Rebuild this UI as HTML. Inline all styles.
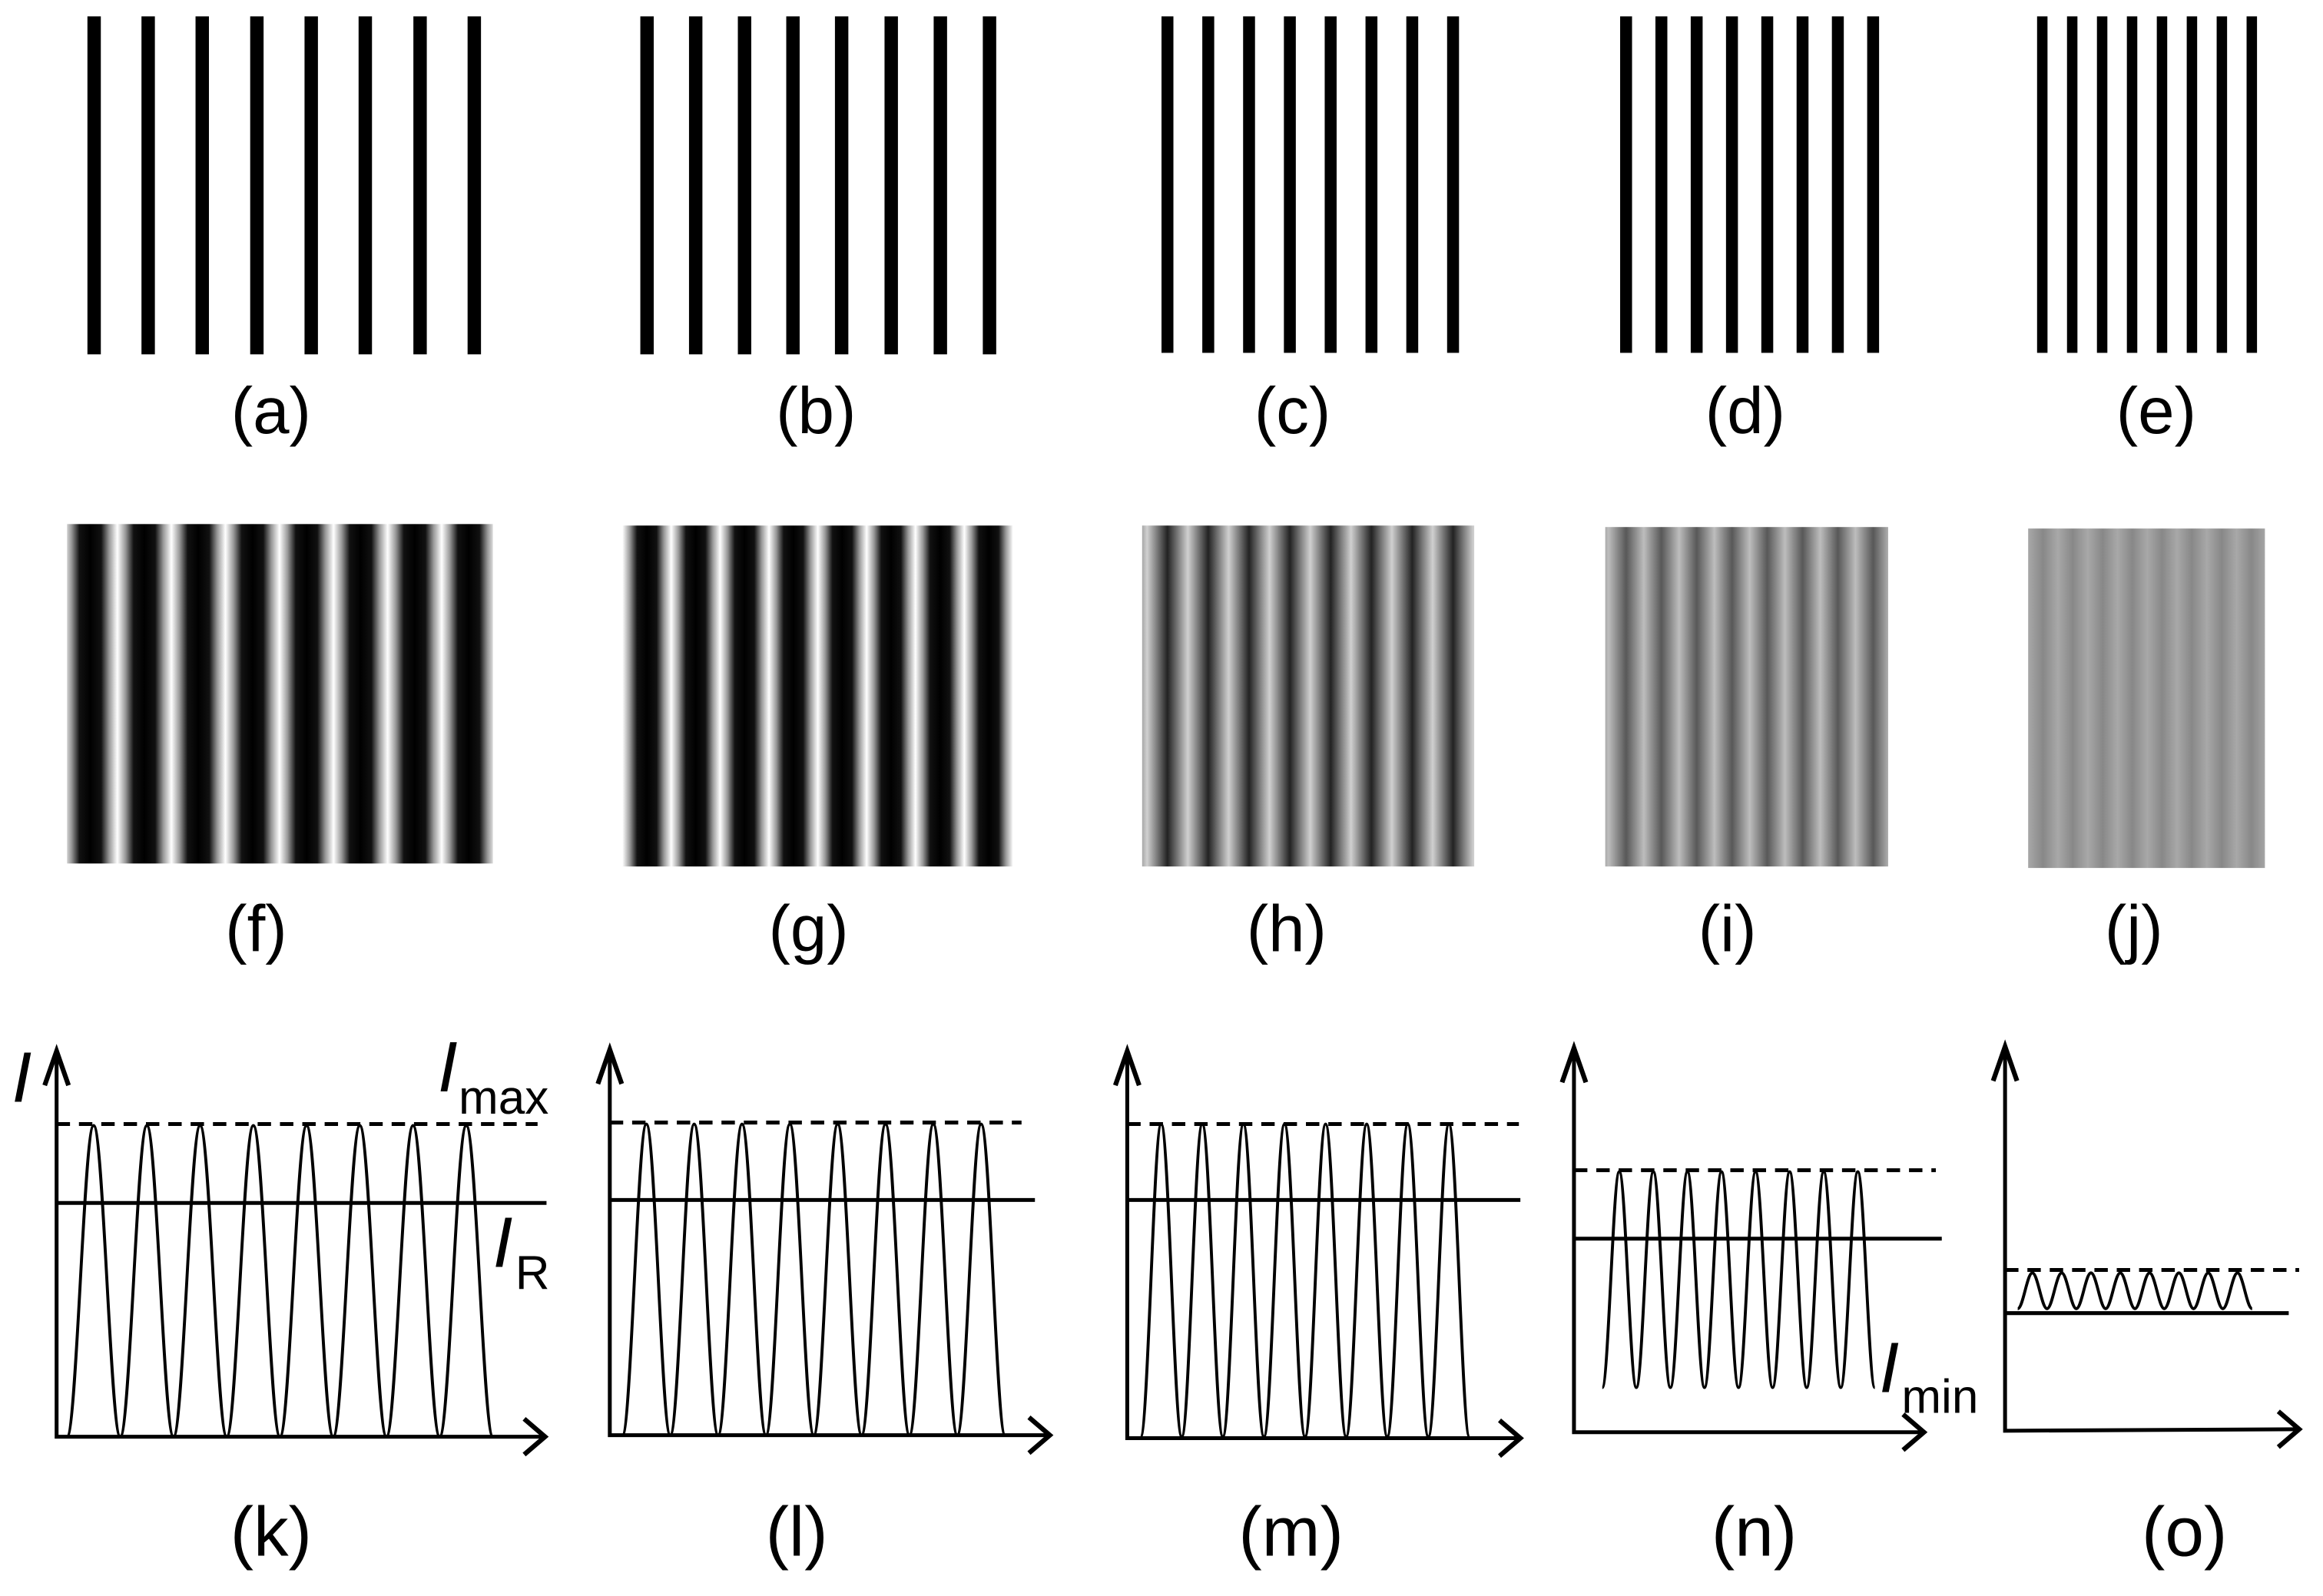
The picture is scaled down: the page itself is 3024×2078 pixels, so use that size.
<!DOCTYPE html>
<html><head><meta charset="utf-8"><style>html,body{margin:0;padding:0;background:#fff}svg{display:block}</style></head>
<body>
<svg width="3024" height="2078" viewBox="0 0 1560 1072" xmlns="http://www.w3.org/2000/svg">
<defs>
<linearGradient id="gf" gradientUnits="userSpaceOnUse" x1="42.5" y1="0" x2="78.8" y2="0" spreadMethod="repeat">
<stop offset="0" stop-color="#fff"/><stop offset="0.15" stop-color="#999"/><stop offset="0.3" stop-color="#111"/><stop offset="0.5" stop-color="#000"/><stop offset="0.7" stop-color="#111"/><stop offset="0.85" stop-color="#999"/><stop offset="1" stop-color="#fff"/></linearGradient>
<linearGradient id="gg" gradientUnits="userSpaceOnUse" x1="418" y1="0" x2="450.8" y2="0" spreadMethod="repeat">
<stop offset="0" stop-color="#fff"/><stop offset="0.15" stop-color="#999"/><stop offset="0.3" stop-color="#111"/><stop offset="0.5" stop-color="#000"/><stop offset="0.7" stop-color="#111"/><stop offset="0.85" stop-color="#999"/><stop offset="1" stop-color="#fff"/></linearGradient>
<linearGradient id="gh" gradientUnits="userSpaceOnUse" x1="770.3" y1="0" x2="797.7" y2="0" spreadMethod="repeat">
<stop offset="0" stop-color="#d0d0d0"/><stop offset="0.25" stop-color="#7a7a7a"/><stop offset="0.5" stop-color="#222"/><stop offset="0.75" stop-color="#7a7a7a"/><stop offset="1" stop-color="#d0d0d0"/></linearGradient>
<linearGradient id="gi" gradientUnits="userSpaceOnUse" x1="1080.2" y1="0" x2="1103.9" y2="0" spreadMethod="repeat">
<stop offset="0" stop-color="#bdbdbd"/><stop offset="0.25" stop-color="#8a8a8a"/><stop offset="0.5" stop-color="#585858"/><stop offset="0.75" stop-color="#8a8a8a"/><stop offset="1" stop-color="#bdbdbd"/></linearGradient>
<linearGradient id="gj" gradientUnits="userSpaceOnUse" x1="1362" y1="0" x2="1382" y2="0" spreadMethod="repeat">
<stop offset="0" stop-color="#a8a8a8"/><stop offset="0.5" stop-color="#888"/><stop offset="1" stop-color="#a8a8a8"/></linearGradient>
</defs>

<g fill="#000">
<rect x="58.7" y="11" width="9" height="227"/><rect x="95" y="11" width="9" height="227"/><rect x="131.3" y="11" width="9" height="227"/><rect x="168" y="11" width="9" height="227"/><rect x="204.5" y="11" width="9" height="227"/><rect x="240.8" y="11" width="9" height="227"/><rect x="277.6" y="11" width="9" height="227"/><rect x="314" y="11" width="9" height="227"/>
<rect x="430" y="11" width="9" height="227"/><rect x="462.7" y="11" width="9" height="227"/><rect x="495.5" y="11" width="9" height="227"/><rect x="528" y="11" width="9" height="227"/><rect x="560.7" y="11" width="9" height="227"/><rect x="594" y="11" width="9" height="227"/><rect x="627" y="11" width="9" height="227"/><rect x="660" y="11" width="9" height="227"/>
<rect x="780" y="11" width="8" height="226"/><rect x="807.4" y="11" width="8" height="226"/><rect x="834.8" y="11" width="8" height="226"/><rect x="862.2" y="11" width="8" height="226"/><rect x="889.6" y="11" width="8" height="226"/><rect x="917" y="11" width="8" height="226"/><rect x="944.4" y="11" width="8" height="226"/><rect x="971.8" y="11" width="8" height="226"/>
<rect x="1088" y="11" width="8" height="226"/><rect x="1111.7" y="11" width="8" height="226"/><rect x="1135.4" y="11" width="8" height="226"/><rect x="1159.1" y="11" width="8" height="226"/><rect x="1182.8" y="11" width="8" height="226"/><rect x="1206.5" y="11" width="8" height="226"/><rect x="1230.2" y="11" width="8" height="226"/><rect x="1253.9" y="11" width="8" height="226"/>
<rect x="1368" y="11" width="7" height="226"/><rect x="1388.1" y="11" width="7" height="226"/><rect x="1408.2" y="11" width="7" height="226"/><rect x="1428.3" y="11" width="7" height="226"/><rect x="1448.4" y="11" width="7" height="226"/><rect x="1468.5" y="11" width="7" height="226"/><rect x="1488.6" y="11" width="7" height="226"/><rect x="1508.7" y="11" width="7" height="226"/>
</g>

<rect x="45" y="352" width="286" height="228" fill="url(#gf)"/>
<rect x="418" y="353" width="262" height="229" fill="url(#gg)"/>
<rect x="767" y="353" width="223" height="229" fill="url(#gh)"/>
<rect x="1078" y="354" width="190" height="228" fill="url(#gi)"/>
<rect x="1362" y="355" width="159" height="228" fill="url(#gj)"/>

<g font-family="Liberation Sans, Arial, sans-serif" font-size="44" text-anchor="middle" fill="#000">
<text x="182" y="291">(a)</text><text x="548" y="291">(b)</text><text x="868" y="291">(c)</text><text x="1172" y="291">(d)</text><text x="1448" y="291">(e)</text>
<text x="172" y="639">(f)</text><text x="543" y="639">(g)</text><text x="864" y="639">(h)</text><text x="1160" y="639">(i)</text><text x="1433" y="639">(j)</text>
</g>
<g font-family="Liberation Sans, Arial, sans-serif" font-size="47" text-anchor="middle" fill="#000">
<text x="182" y="1045">(k)</text><text x="535" y="1045">(l)</text><text x="867" y="1045">(m)</text><text x="1178" y="1045">(n)</text><text x="1467" y="1045">(o)</text>
</g>

<g fill="none" stroke="#000" stroke-linecap="butt">
<g stroke-width="2.6">
<path d="M38,708 V965 H366"/>
<polyline stroke-width="3.2" points="30,729 38,706 46,729"/>
<polyline stroke-width="3.2" points="352,953 366,965 352,977"/>
<path d="M38,808 H367"/>
<path d="M38,755 H361" stroke-dasharray="9,6"/>
</g>
<path stroke-width="2" d="M45,965 c6.51,0 11.37,-209 17.875,-209 s11.37,209 17.875,209 s11.37,-209 17.875,-209 s11.37,209 17.875,209 s11.37,-209 17.875,-209 s11.37,209 17.875,209 s11.37,-209 17.875,-209 s11.37,209 17.875,209 s11.37,-209 17.875,-209 s11.37,209 17.875,209 s11.37,-209 17.875,-209 s11.37,209 17.875,209 s11.37,-209 17.875,-209 s11.37,209 17.875,209 s11.37,-209 17.875,-209 s11.37,209 17.875,209"/>
<g stroke-width="2.6">
<path d="M409.5,707 V964 H705"/>
<polyline stroke-width="3.2" points="401.5,728 409.5,705 417.5,728"/>
<polyline stroke-width="3.2" points="691,952 705,964 691,976"/>
<path d="M409.5,806 H695"/>
<path d="M409.5,754 H686" stroke-dasharray="9,6"/>
</g>
<path stroke-width="2" d="M418,964 c5.85,0 10.21,-209 16.06,-209 s10.21,209 16.06,209 s10.21,-209 16.06,-209 s10.21,209 16.06,209 s10.21,-209 16.06,-209 s10.21,209 16.06,209 s10.21,-209 16.06,-209 s10.21,209 16.06,209 s10.21,-209 16.06,-209 s10.21,209 16.06,209 s10.21,-209 16.06,-209 s10.21,209 16.06,209 s10.21,-209 16.06,-209 s10.21,209 16.06,209 s10.21,-209 16.06,-209 s10.21,209 16.06,209"/>
<g stroke-width="2.6">
<path d="M757,708 V966 H1021"/>
<polyline stroke-width="3.2" points="749,729 757,706 765,729"/>
<polyline stroke-width="3.2" points="1007,954 1021,966 1007,978"/>
<path d="M757,806 H1021"/>
<path d="M757,755 H1020" stroke-dasharray="9,6"/>
</g>
<path stroke-width="2" d="M766,965 c5.03,0 8.78,-210 13.8,-210 s8.78,210 13.8,210 s8.78,-210 13.8,-210 s8.78,210 13.8,210 s8.78,-210 13.8,-210 s8.78,210 13.8,210 s8.78,-210 13.8,-210 s8.78,210 13.8,210 s8.78,-210 13.8,-210 s8.78,210 13.8,210 s8.78,-210 13.8,-210 s8.78,210 13.8,210 s8.78,-210 13.8,-210 s8.78,210 13.8,210 s8.78,-210 13.8,-210 s8.78,210 13.8,210"/>
<g stroke-width="2.6">
<path d="M1057,706 V962 H1292"/>
<polyline stroke-width="3.2" points="1049,727 1057,704 1065,727"/>
<polyline stroke-width="3.2" points="1278,950 1292,962 1278,974"/>
<path d="M1057,832 H1304"/>
<path d="M1057,786 H1300" stroke-dasharray="9,6"/>
</g>
<path stroke-width="2" d="M1076,932 c4.16,0 7.27,-145 11.44,-145 s7.27,145 11.44,145 s7.27,-145 11.44,-145 s7.27,145 11.44,145 s7.27,-145 11.44,-145 s7.27,145 11.44,145 s7.27,-145 11.44,-145 s7.27,145 11.44,145 s7.27,-145 11.44,-145 s7.27,145 11.44,145 s7.27,-145 11.44,-145 s7.27,145 11.44,145 s7.27,-145 11.44,-145 s7.27,145 11.44,145 s7.27,-145 11.44,-145 s7.27,145 11.44,145"/>
<g stroke-width="2.6">
<path d="M1346.5,705 V961 L1543,960"/>
<polyline stroke-width="3.2" points="1338.5,726 1346.5,703 1354.5,726"/>
<polyline stroke-width="3.2" points="1530,948 1544,960 1530,972"/>
<path d="M1346.5,882 H1537"/>
<path d="M1346.5,853 H1544" stroke-dasharray="9,6"/>
</g>
<path stroke-width="2" d="M1355,879 c3.58,0 6.26,-24 9.84,-24 s6.26,24 9.84,24 s6.26,-24 9.84,-24 s6.26,24 9.84,24 s6.26,-24 9.84,-24 s6.26,24 9.84,24 s6.26,-24 9.84,-24 s6.26,24 9.84,24 s6.26,-24 9.84,-24 s6.26,24 9.84,24 s6.26,-24 9.84,-24 s6.26,24 9.84,24 s6.26,-24 9.84,-24 s6.26,24 9.84,24 s6.26,-24 9.84,-24 s6.26,24 9.84,24"/>
</g>

<g font-family="Liberation Sans, Arial, sans-serif" fill="#000">
<text x="8" y="740" font-size="48" font-style="italic">I</text>
<text x="294" y="733" font-size="48" font-style="italic">I</text><text x="308" y="748" font-size="32">max</text>
<text x="331" y="851" font-size="48" font-style="italic">I</text><text x="346" y="866" font-size="32">R</text>
<text x="1262" y="935" font-size="48" font-style="italic">I</text><text x="1277" y="949" font-size="32">min</text>
</g>
</svg>
</body></html>
